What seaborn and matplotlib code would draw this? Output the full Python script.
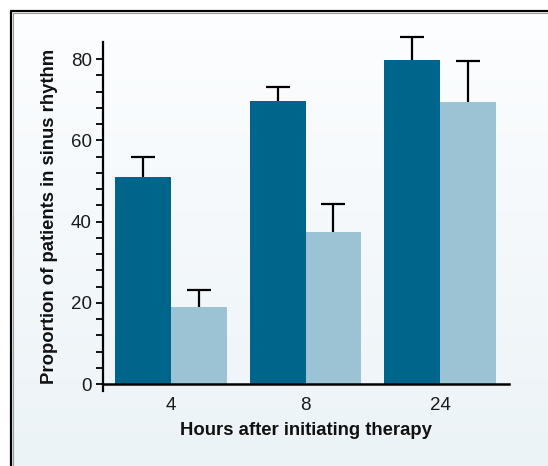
import numpy as np
import pandas as pd
import matplotlib
matplotlib.use("Agg")
import matplotlib.pyplot as plt
import seaborn as sns

# ---- data ----
hours = ["4", "8", "24"]
series_names = ["Group A", "Group B"]
dark_values = [51.0, 69.7, 79.7]
dark_upper = [5.0, 3.3, 5.8]
light_values = [19.0, 37.4, 69.5]
light_upper = [4.2, 6.8, 10.1]
y_ticks = [0, 20, 40, 60, 80]
x_label = "Hours after initiating therapy"
y_label = "Proportion of patients in sinus rhythm"

colors = ["#00658B", "#9BC3D3"]

df = pd.DataFrame({
    "hours": hours * 2,
    "series": [series_names[0]] * 3 + [series_names[1]] * 3,
    "value": dark_values + light_values,
})
errs = dark_upper + light_upper

sns.set_theme(style="white")
plt.rcParams["font.family"] = ["Liberation Sans", "DejaVu Sans"]

fig = plt.figure(figsize=(5.48, 4.66), dpi=100)

# background gradient panel with frame
bg = fig.add_axes([0, 0, 1, 1], zorder=0)
grad = np.linspace(0, 1, 256).reshape(-1, 1)
top = np.array([0.99, 0.995, 1.0])
bot = np.array([0.925, 0.953, 0.968])
img = top[None, None, :] * (1 - grad[:, :, None]) + bot[None, None, :] * grad[:, :, None]
bg.imshow(img, extent=[10, 548, 466, 10], aspect="auto", zorder=0)
bg.plot([10.5, 10.5, 548], [466, 10.5, 10.5], color="black", lw=1.6, zorder=2, solid_capstyle="butt")
bg.plot([12.5, 12.5, 548], [466, 12.5, 12.5], color="#9a9a9a", lw=0.8, zorder=2)
bg.set_xlim(0, 548)
bg.set_ylim(466, 0)
bg.axis("off")

ax = fig.add_axes([103 / 548, (466 - 391) / 466, (509 - 103) / 548, (391 - 42) / 466], zorder=1)
ax.patch.set_alpha(0)

sns.barplot(data=df, x="hours", y="value", hue="series", order=hours,
            hue_order=series_names, palette=colors, width=0.83, saturation=1,
            errorbar=None, legend=False, ax=ax)

for p in ax.patches:
    p.set_edgecolor("none")

bars = [p for p in ax.patches][:6]
for p, e in zip(bars, errs):
    xc = p.get_x() + p.get_width() / 2
    h = p.get_height()
    cont = ax.errorbar(xc, h, yerr=[[0], [e]], fmt="none", ecolor="black",
                       elinewidth=1.6, capsize=8.5, capthick=1.6, zorder=3)
    caps = cont[1]
    if len(caps) >= 2:
        caps[0].set_visible(False)
    for c in caps:
        c.set_clip_on(False)
    for lc in cont[2]:
        lc.set_clip_on(False)

ax.set_ylim(-1.72, 84.2)
ax.set_xlim(-0.506, 2.513)
ax.set_yticks(y_ticks)
ax.set_yticks(np.arange(0, 84, 4), minor=True)
ax.tick_params(axis="y", which="both", direction="out", length=5, width=1.3,
               color="black", left=True, labelsize=13.5, pad=3, labelcolor="#1a1a1a")
ax.tick_params(axis="x", length=0, labelsize=13.5, pad=9, labelcolor="#1a1a1a")

for s in ["top", "right"]:
    ax.spines[s].set_visible(False)
ax.spines["left"].set_color("black")
ax.spines["left"].set_linewidth(1.6)
ax.spines["bottom"].set_color("black")
ax.spines["bottom"].set_linewidth(1.8)
ax.spines["bottom"].set_position(("data", 0))

ax.set_xlabel(x_label, fontsize=13.3, fontweight="bold", labelpad=6, color="#111111")
ax.set_ylabel(y_label, fontsize=13.3, fontweight="bold", labelpad=9, color="#111111")

fig.savefig("out.png", dpi=100)
